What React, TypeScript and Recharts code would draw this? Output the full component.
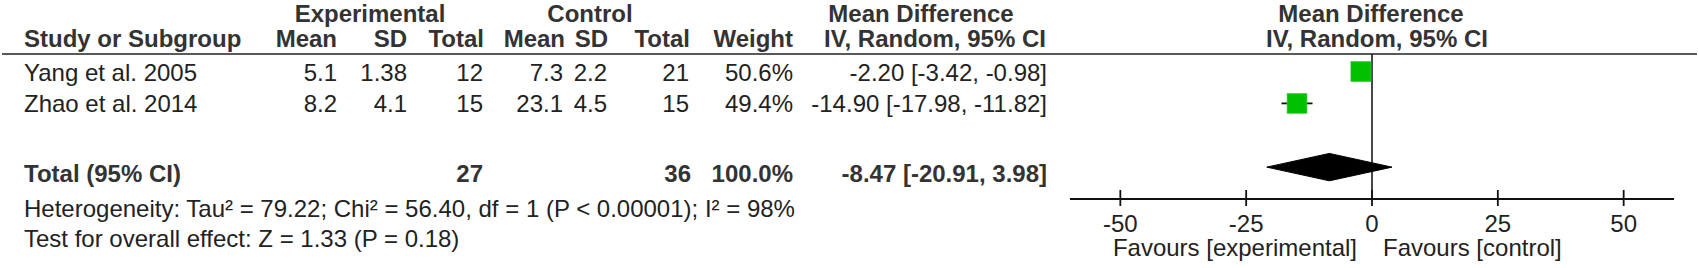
import { ScatterChart, Scatter, XAxis, YAxis, ErrorBar, ReferenceLine } from 'recharts'

// study level data
const studies = ['Yang et al. 2005', 'Zhao et al. 2014']
const expMean = [5.1, 8.2]
const expSD = [1.38, 4.1]
const expTotal = [12, 15]
const ctlMean = [7.3, 23.1]
const ctlSD = [2.2, 4.5]
const ctlTotal = [21, 15]
const weights = [50.6, 49.4]
const md = [-2.2, -14.9]
const ciLow = [-3.42, -17.98]
const ciHigh = [-0.98, -11.82]
const studyRows = [1, 2]

// pooled result
const totalRow = 4
const totalExp = 27
const totalCtl = 36
const totalWeight = 100.0
const pooledMd = -8.47
const pooledLow = -20.91
const pooledHigh = 3.98
const diamondHalf = 0.43

const xTicks = [-50, -25, 0, 25, 50]
const xDomain = [-60, 60]

const heterogeneity = 'Heterogeneity: Tau² = 79.22; Chi² = 56.40, df = 1 (P < 0.00001); I² = 98%'
const overallTest = 'Test for overall effect: Z = 1.33 (P = 0.18)'

const W = 1699
const H = 268
const FONT = '"Liberation Sans", Arial, sans-serif'
const GREEN = '#00c000'

const fmt = (v: number) => v.toFixed(2)
const ciText = (m: number, lo: number, hi: number) => `${fmt(m)} [${fmt(lo)}, ${fmt(hi)}]`

const studyData = studies.map((name, i) => ({
  name,
  x: md[i],
  y: studyRows[i],
  w: weights[i],
  err: [md[i] - ciLow[i], ciHigh[i] - md[i]],
}))

const diamondData = [
  { x: pooledLow, y: totalRow },
  { x: pooledMd, y: totalRow - diamondHalf },
  { x: pooledHigh, y: totalRow },
  { x: pooledMd, y: totalRow + diamondHalf },
  { x: pooledLow, y: totalRow },
]

const StudySquare = (props: any) => {
  const { cx, cy, payload } = props
  const side = 20 * Math.sqrt(payload.w / 50)
  return <rect x={cx - side / 2} y={cy - side / 2} width={side} height={side} fill={GREEN} stroke="#3fd03f" strokeWidth={0.6} />
}

const AxisTick = (props: any) => {
  const { x, y, payload } = props
  return (
    <g>
      <line x1={x} x2={x} y1={y - 9} y2={y + 7} stroke="#111" strokeWidth={1.8} />
      <text x={x} y={y + 33} textAnchor="middle" fontSize={24} fill="#222" fontFamily={FONT}>
        {payload.value}
      </text>
    </g>
  )
}

// table columns (right edges)
const colEnd = { expMean: 337, expSD: 407, expTotal: 483, ctlMean: 563, ctlSD: 607, ctlTotal: 689, weight: 793, ci: 1047 }
const rowBase = [80.5, 112]

function Table() {
  const t = { fontFamily: FONT, fontSize: 24, fill: '#222' }
  const b = { ...t, fontWeight: 700, fill: '#333' }
  return (
    <svg width={W} height={H} style={{ position: 'absolute', left: 0, top: 0, pointerEvents: 'none' }}>
      <text {...b} x={370} y={21.5} textAnchor="middle">Experimental</text>
      <text {...b} x={590} y={21.5} textAnchor="middle">Control</text>
      <text {...b} x={921} y={21.5} textAnchor="middle">Mean Difference</text>
      <text {...b} x={1371} y={21.5} textAnchor="middle">Mean Difference</text>

      <text {...b} x={24} y={47}>Study or Subgroup</text>
      <text {...b} x={colEnd.expMean} y={47} textAnchor="end">Mean</text>
      <text {...b} x={colEnd.expSD} y={47} textAnchor="end">SD</text>
      <text {...b} x={colEnd.expTotal + 1} y={47} textAnchor="end">Total</text>
      <text {...b} x={colEnd.ctlMean + 2} y={47} textAnchor="end">Mean</text>
      <text {...b} x={colEnd.ctlSD + 1} y={47} textAnchor="end">SD</text>
      <text {...b} x={colEnd.ctlTotal + 1} y={47} textAnchor="end">Total</text>
      <text {...b} x={colEnd.weight} y={47} textAnchor="end">Weight</text>
      <text {...b} x={935} y={47} textAnchor="middle">IV, Random, 95% CI</text>
      <text {...b} x={1377} y={47} textAnchor="middle">IV, Random, 95% CI</text>
      <line x1={2} x2={1697} y1={54} y2={54} stroke="#222" strokeWidth={1.6} />

      {studies.map((name, i) => (
        <g key={name}>
          <text {...t} x={24} y={rowBase[i]}>{name}</text>
          <text {...t} x={colEnd.expMean} y={rowBase[i]} textAnchor="end">{expMean[i]}</text>
          <text {...t} x={colEnd.expSD} y={rowBase[i]} textAnchor="end">{expSD[i]}</text>
          <text {...t} x={colEnd.expTotal} y={rowBase[i]} textAnchor="end">{expTotal[i]}</text>
          <text {...t} x={colEnd.ctlMean} y={rowBase[i]} textAnchor="end">{ctlMean[i]}</text>
          <text {...t} x={colEnd.ctlSD} y={rowBase[i]} textAnchor="end">{ctlSD[i]}</text>
          <text {...t} x={colEnd.ctlTotal} y={rowBase[i]} textAnchor="end">{ctlTotal[i]}</text>
          <text {...t} x={colEnd.weight} y={rowBase[i]} textAnchor="end">{weights[i].toFixed(1)}%</text>
          <text {...t} x={colEnd.ci} y={rowBase[i]} textAnchor="end">{ciText(md[i], ciLow[i], ciHigh[i])}</text>
        </g>
      ))}

      <text {...b} x={24} y={181.5}>Total (95% CI)</text>
      <text {...b} x={colEnd.expTotal} y={181.5} textAnchor="end">{totalExp}</text>
      <text {...b} x={colEnd.ctlTotal + 2} y={181.5} textAnchor="end">{totalCtl}</text>
      <text {...b} x={colEnd.weight} y={181.5} textAnchor="end">{totalWeight.toFixed(1)}%</text>
      <text {...b} x={colEnd.ci} y={181.5} textAnchor="end">{ciText(pooledMd, pooledLow, pooledHigh)}</text>

      <text {...t} x={24} y={216.5}>{heterogeneity}</text>
      <text {...t} x={24} y={247}>{overallTest}</text>

      <text {...t} x={1357} y={256} textAnchor="end">Favours [experimental]</text>
      <text {...t} x={1383} y={256}>Favours [control]</text>
    </svg>
  )
}

export default function App() {
  return (
    <div style={{ position: 'absolute', left: 0, top: 0, width: W, height: H, background: '#fff' }}>
      <div style={{ position: 'absolute', left: 0, top: 0 }}>
        <ScatterChart width={W} height={H} margin={{ top: 54, right: 25, bottom: 9, left: 1070 }}>
          <XAxis
            type="number"
            dataKey="x"
            domain={xDomain}
            ticks={xTicks}
            allowDataOverflow
            height={60}
            tickSize={0}
            tickMargin={0}
            tickLine={false}
            tick={<AxisTick />}
            axisLine={{ stroke: '#111', strokeWidth: 1.8 }}
            interval={0}
          />
          <YAxis type="number" dataKey="y" domain={[0.45, 5]} reversed hide width={0} />
          <ReferenceLine x={0} stroke="#333" strokeWidth={1.8} />
          <Scatter
            data={diamondData}
            line={{ fill: '#000', stroke: '#000', strokeWidth: 1 }}
            lineType="joint"
            shape={() => <g />}
            isAnimationActive={false}
          />
          <Scatter data={studyData} shape={<StudySquare />} isAnimationActive={false}>
            <ErrorBar dataKey="err" direction="x" width={0} stroke="#111" strokeWidth={1.8} />
          </Scatter>
        </ScatterChart>
      </div>
      <Table />
    </div>
  )
}
